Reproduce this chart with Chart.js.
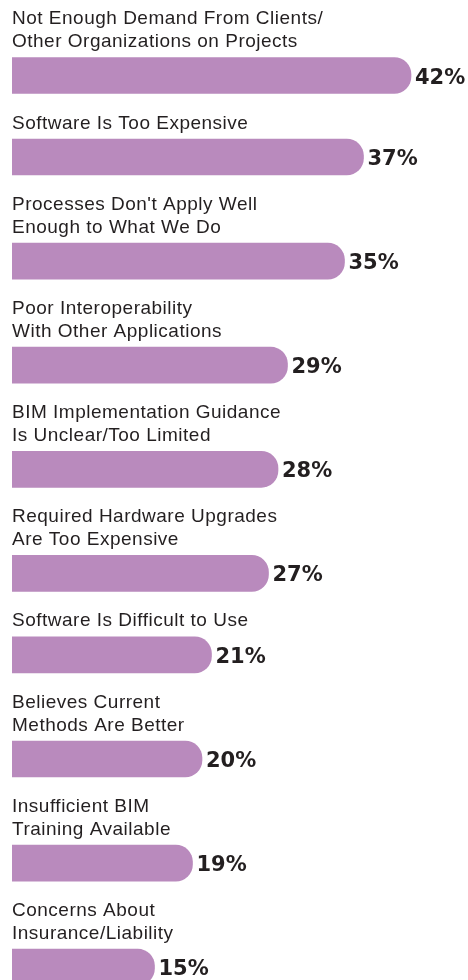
<!DOCTYPE html>
<html><head><meta charset="utf-8">
<script src="https://cdn.jsdelivr.net/npm/chart.js@4/dist/chart.umd.min.js"></script>
<style>html,body{margin:0;padding:0;background:#fff;overflow:hidden}#wrap{position:relative;width:468px;height:980px}</style>
</head><body><div id="wrap"><canvas id="c" width="468" height="980"></canvas></div>
<script>
// ---- data ----
const categories = [
  ["Not Enough Demand From Clients/", "Other Organizations on Projects"],
  ["Software Is Too Expensive"],
  ["Processes Don't Apply Well", "Enough to What We Do"],
  ["Poor Interoperability", "With Other Applications"],
  ["BIM Implementation Guidance", "Is Unclear/Too Limited"],
  ["Required Hardware Upgrades", "Are Too Expensive"],
  ["Software Is Difficult to Use"],
  ["Believes Current", "Methods Are Better"],
  ["Insufficient BIM", "Training Available"],
  ["Concerns About", "Insurance/Liability"]
];
const values = [42, 37, 35, 29, 28, 27, 21, 20, 19, 15];
const valueLabels = values.map(v => v + '%');

// ---- layout (derived from number of label lines) ----
const LINE_H = 22.6, BLOCK_GAP = 58.9, BAR_OFFSET = 30.3;
const rowPos = [];
let cursor = 0;
categories.forEach(lines => {
  rowPos.push(cursor + lines.length * LINE_H + BAR_OFFSET);
  cursor += lines.length * LINE_H + BLOCK_GAP;
});

const TEXT = '#231f20';
const labelPlugin = {
  id: 'labels',
  afterDatasetsDraw(chart) {
    const ctx = chart.ctx;
    const meta = chart.getDatasetMeta(0);
    ctx.save();
    meta.data.forEach((bar, i) => {
      const lines = categories[i];
      ctx.fillStyle = TEXT;
      ctx.font = '19px "Liberation Sans", Arial, sans-serif';
      ctx.letterSpacing = '0.5px';
      ctx.textAlign = 'left';
      ctx.textBaseline = 'alphabetic';
      const last = bar.y - 28.5;
      lines.forEach((ln, j) => {
        ctx.fillText(ln, 12, last - (lines.length - 1 - j) * LINE_H);
      });
      ctx.letterSpacing = '0px';
      ctx.font = 'bold 21px "DejaVu Sans", sans-serif';
      ctx.fillText(valueLabels[i], bar.x + 4, bar.y + 8);
    });
    ctx.restore();
  }
};

new Chart(document.getElementById('c'), {
  type: 'bar',
  data: {
    datasets: [{
      data: values.map((v, i) => ({ x: v, y: rowPos[i] })),
      backgroundColor: '#b98abd',
      borderWidth: 0,
      borderRadius: 17,
      borderSkipped: 'start',
      barThickness: 36
    }]
  },
  options: {
    indexAxis: 'y',
    responsive: false,
    animation: false,
    layout: { padding: { left: 12, right: 0, top: 0, bottom: 0 } },
    scales: {
      x: { type: 'linear', min: 0, max: 48, display: false, offset: false },
      y: { type: 'linear', min: 0, max: 980, reverse: true, display: false, offset: false }
    },
    plugins: { legend: { display: false }, tooltip: { enabled: false } }
  },
  plugins: [labelPlugin]
});
</script></body></html>
